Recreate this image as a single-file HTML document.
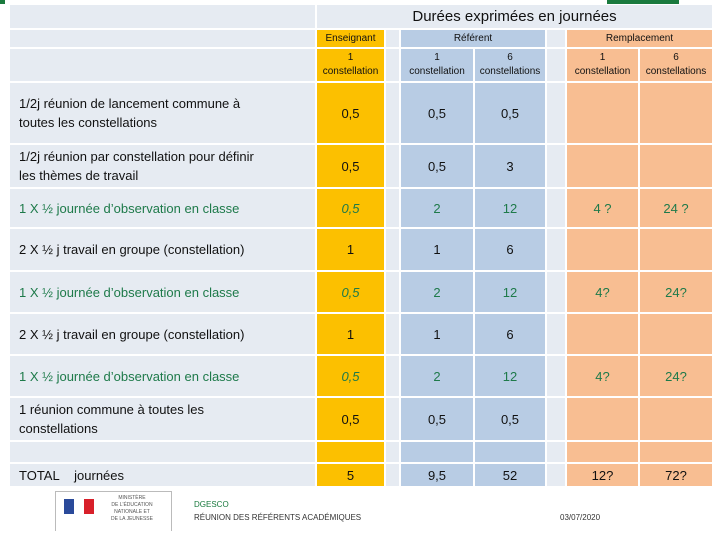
<!DOCTYPE html>
<html><head><meta charset="utf-8"><style>
body{margin:0;width:720px;height:540px;background:#fff;position:relative;overflow:hidden;font-family:"Liberation Sans",sans-serif;}
.c{position:absolute;display:flex;align-items:center;justify-content:center;text-align:center;box-sizing:border-box;font-size:13px;color:#111;}
.l{justify-content:flex-start;text-align:left;padding-left:9px;font-size:13px;line-height:19px;}
.g{color:#1e7a4a;}
.i{font-style:italic;}
</style></head><body>
<div style="position:absolute;left:0;top:0;width:5px;height:4px;background:#1a7a3e"></div>
<div style="position:absolute;left:607px;top:0;width:72px;height:4px;background:#1a7a3e"></div>
<div id="t"></div>
<div style="position:absolute;left:55px;top:491px;width:117px;height:40px;border:1px solid #bbb;border-bottom:none;box-sizing:border-box">
<div style="position:absolute;left:8px;top:7px;width:10px;height:15px;background:#2a4a9a"></div>
<div style="position:absolute;left:18px;top:7px;width:10px;height:15px;background:#fff"></div>
<div style="position:absolute;left:28px;top:7px;width:10px;height:15px;background:#d8202a"></div>
<div style="position:absolute;left:55px;top:3px;font-size:5px;line-height:7px;color:#555;text-align:center">MINISTÈRE<br>DE L'ÉDUCATION<br>NATIONALE ET<br>DE LA JEUNESSE</div></div>
<div style="position:absolute;left:194px;top:500px;font-size:8px;color:#1a7a3e">DGESCO</div>
<div style="position:absolute;left:194px;top:513px;font-size:8px;color:#333">RÉUNION DES RÉFÉRENTS ACADÉMIQUES</div>
<div style="position:absolute;left:560px;top:513px;font-size:8px;color:#333">03/07/2020</div>
<script>
const colX=[[10,315],[317,384],[386,399],[401,473],[475,545],[547,565],[567,638],[640,712]];
const colBg=['#e6ebf2','#fcc000','#e6ebf2','#b8cce4','#b8cce4','#e6ebf2','#f8be92','#f8be92'];
const rowY=[[83,143],[145,187],[189,227],[229,270],[272,312],[314,354],[356,396],[398,440],[442,462],[464,486]];
const labels=['1/2j  réunion de lancement commune à<br>toutes les constellations','1/2j  réunion par constellation pour définir<br>les thèmes de travail','1  X ½ journée d’observation en classe','2 X ½ j travail en groupe (constellation)','1 X ½ journée d’observation en classe','2 X  ½ j travail en groupe (constellation)','1 X ½ journée d’observation en classe','1 réunion commune à toutes les<br>constellations','','TOTAL&nbsp;&nbsp;&nbsp;&nbsp;journées'];
const green=[false,false,true,false,true,false,true,false,false,false];
const ens=['0,5','0,5','0,5','1','0,5','1','0,5','0,5','','5'];
const ref1=['0,5','0,5','2','1','2','1','2','0,5','','9,5'];
const ref6=['0,5','3','12','6','12','6','12','0,5','','52'];
const rem1=['','','4 ?','','4?','','4?','','','12?'];
const rem6=['','','24 ?','','24?','','24?','','','72?'];
const t=document.getElementById('t');
function cell(x0,x1,y0,y1,bg,html,cls,name){
const d=document.createElement('div');d.className='c '+(cls||'');
d.style.cssText=`left:${x0}px;top:${y0}px;width:${x1-x0}px;height:${y1-y0}px;background:${bg}`;
d.innerHTML=html;


t.appendChild(d);}
cell(10,315,5,28,'#e6ebf2','','','header-blank');
cell(317,712,5,28,'#e6ebf2','<span style="font-size:15px">Durées exprimées en journées</span>','','table-title');
cell(10,315,30,47,'#e6ebf2','','','header-blank-2');
cell(317,384,30,47,'#fcc000','<span style="font-size:10px">Enseignant</span>','','header-enseignant');
cell(386,399,30,47,'#e6ebf2','','','gap');
cell(401,545,30,47,'#b8cce4','<span style="font-size:10px">Référent</span>','','header-referent');
cell(547,565,30,47,'#e6ebf2','','','gap');
cell(567,712,30,47,'#f8be92','<span style="font-size:10px">Remplacement</span>','','header-remplacement');
const sub=['','1<br>constellation','','1<br>constellation','6<br>constellations','','1<br>constellation','6<br>constellations'];
for(let k=0;k<8;k++)cell(colX[k][0],colX[k][1],49,81,colBg[k],'<span style="font-size:10px;line-height:14px">'+sub[k]+'</span>','','subheader-'+k);
for(let r=0;r<rowY.length;r++){
const [y0,y1]=rowY[r];const g=green[r]?' g':'';
const vals=[labels[r],ens[r],'',ref1[r],ref6[r],'',rem1[r],rem6[r]];
for(let k=0;k<8;k++){
let cls=k==0?'l'+g:g;
if(k==1&&green[r])cls+=' i';
cell(colX[k][0],colX[k][1],y0,y1,colBg[k],vals[k],cls,k==0?'row-label-'+r:'cell-'+r+'-'+k);
}}
</script>
</body></html>
